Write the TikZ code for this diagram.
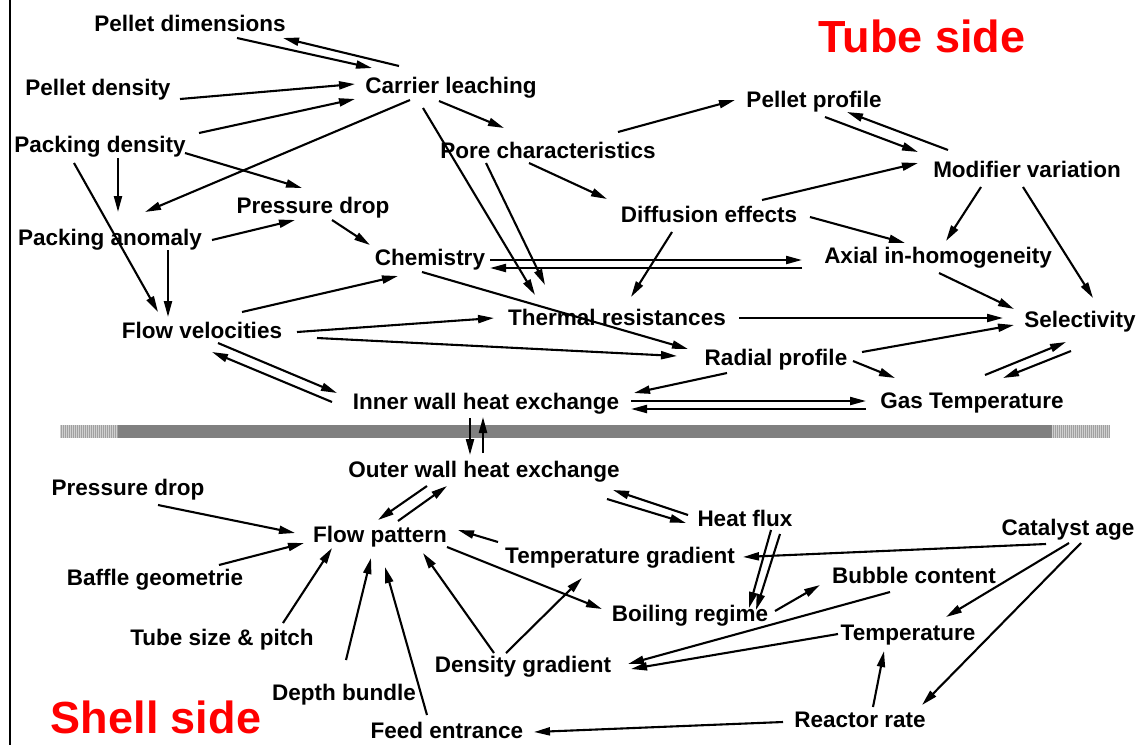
\documentclass[tikz,border=0pt]{standalone}
\usepackage{fontspec}
\setmainfont{Liberation Sans}
\usetikzlibrary{arrows.meta,calc}
\definecolor{wallgray}{HTML}{808080}
\definecolor{hatchlight}{HTML}{D0D0D0}
\definecolor{hatchdark}{HTML}{A0A0A0}
\begin{document}
\begin{tikzpicture}[x=1pt,y=-1pt,
  lbl/.style={anchor=base,inner sep=0pt,font=\fontsize{22.5}{27}\selectfont\bfseries},
  side/.style={anchor=base,inner sep=0pt,text=red,font=\fontsize{45}{54}\selectfont\bfseries},
  arr/.style={line width=2.1pt,-{Triangle[length=16pt,width=8pt]}}]
\useasboundingbox (0,0) rectangle (1139,745);
\fill[white] (0,0) rectangle (1139,745);

% left frame line
\draw[line width=2pt] (10,0) -- (10,745);

% reactor wall
\fill[hatchlight] (60,425) rectangle (118,438);
\foreach \x in {61,63,...,117} \draw[hatchdark,line width=0.8pt] (\x,425) -- (\x,438);
\fill[hatchlight] (1052,425) rectangle (1110,438);
\foreach \x in {1053,1055,...,1109} \draw[hatchdark,line width=0.8pt] (\x,425) -- (\x,438);
\fill[wallgray] (118,425) rectangle (1052,438);

% side titles
\node[side] (tubeside) at (922,52) {Tube side};
\node[side] (shellside) at (156,733) {Shell side};

% tube side factors
\node[lbl] (pdim)  at (190,31)  {Pellet dimensions};
\node[lbl] (pden)  at (98,95)   {Pellet density};
\node[lbl] (pack)  at (100,152) {Packing density};
\node[lbl] (pdt)   at (313,213) {Pressure drop};
\node[lbl] (panom) at (110,245) {Packing anomaly};
\node[lbl] (carr)  at (451,93)  {Carrier leaching};
\node[lbl] (pore)  at (548,158) {Pore characteristics};
\node[lbl] (diff)  at (709,222) {Diffusion effects};
\node[lbl] (pprof) at (814,107) {Pellet profile};
\node[lbl] (modv)  at (1027,177) {Modifier variation};
\node[lbl] (chem)  at (430,265) {Chemistry};
\node[lbl] (axial) at (938,263) {Axial in-homogeneity};
\node[lbl] (flowv) at (202,338) {Flow velocities};
\node[lbl] (therm) at (617,325) {Thermal resistances};
\node[lbl] (sel)   at (1080,327) {Selectivity};
\node[lbl] (rad)   at (776,365) {Radial profile};
\node[lbl] (iwall) at (486,409) {Inner wall heat exchange};
\node[lbl] (gast)  at (972,408) {Gas Temperature};

% shell side factors
\node[lbl] (owall) at (484,477) {Outer wall heat exchange};
\node[lbl] (spd)   at (128,495) {Pressure drop};
\node[lbl] (heat)  at (745,526) {Heat flux};
\node[lbl] (cat)   at (1068,535) {Catalyst age};
\node[lbl] (flowp) at (380,542) {Flow pattern};
\node[lbl] (tgrad) at (620,563) {Temperature gradient};
\node[lbl] (bub)   at (914,583) {Bubble content};
\node[lbl] (baff)  at (155,585) {Baffle geometrie};
\node[lbl] (boil)  at (690,621) {Boiling regime};
\node[lbl] (temp)  at (908,640) {Temperature};
\node[lbl] (tube)  at (222,645) {Tube size \& pitch};
\node[lbl] (dens)  at (523,672) {Density gradient};
\node[lbl] (depth) at (344,700) {Depth bundle};
\node[lbl] (react) at (860,727) {Reactor rate};
\node[lbl] (feed)  at (447,738) {Feed entrance};

% tube side influences
\draw[arr] ($(pdim.base)+(47,7)$) -- ($(carr.base)+(-79,-25)$);
\draw[arr] ($(carr.base)+(-52,-27)$) -- ($(pdim.base)+(93,7)$);
\draw[arr] ($(pden.base)+(82,4)$) -- ($(carr.base)+(-96,-9)$);
\draw[arr] ($(pack.base)+(99,-19)$) -- ($(carr.base)+(-96,6)$);
\draw[arr] ($(carr.base)+(-41,7)$) -- ($(panom.base)+(35,-33)$);
\draw[arr] ($(pack.base)+(85,1)$) -- ($(pdt.base)+(-11,-25)$);
\draw[arr] ($(pack.base)+(18,6)$) -- ($(panom.base)+(8,-33)$);
\draw[arr] ($(pack.base)+(-26,11)$) -- ($(flowv.base)+(-44,-26)$);
\draw[arr] ($(panom.base)+(58,5)$) -- ($(flowv.base)+(-34,-21)$);
\draw[arr] ($(panom.base)+(102,-5)$) -- ($(pdt.base)+(-18,7)$);
\draw[arr] ($(pdt.base)+(19,7)$) -- ($(chem.base)+(-60,-20)$);
\draw[arr] ($(carr.base)+(-12,8)$) -- ($(pore.base)+(-44,-30)$);
\draw[arr] ($(carr.base)+(-28,15)$) -- ($(therm.base)+(-82,-30)$);
\draw[arr] ($(pore.base)+(-62,5)$) -- ($(therm.base)+(-72,-40)$);
\draw[arr] ($(pore.base)+(-19,5)$) -- ($(diff.base)+(-102,-23)$);
\draw[arr] ($(pore.base)+(70,-26)$) -- ($(pprof.base)+(-79,-7)$);
\draw[arr] ($(diff.base)+(53,-22)$) -- ($(modv.base)+(-109,-14)$);
\draw[arr] ($(pprof.base)+(11,10)$) -- ($(modv.base)+(-109,-25)$);
\draw[arr] ($(modv.base)+(-79,-27)$) -- ($(pprof.base)+(33,5)$);
\draw[arr] ($(modv.base)+(-46,10)$) -- ($(axial.base)+(8,-22)$);
\draw[arr] ($(modv.base)+(-4,10)$) -- ($(sel.base)+(13,-29)$);
\draw[arr] ($(diff.base)+(101,-5)$) -- ($(axial.base)+(-33,-20)$);
\draw[arr] ($(diff.base)+(-37,10)$) -- ($(therm.base)+(14,-28)$);
\draw[arr] ($(chem.base)+(60,-5)$) -- ($(axial.base)+(-136,-3)$);
\draw[arr] ($(axial.base)+(-136,5)$) -- ($(chem.base)+(60,3)$);
\draw[arr] ($(axial.base)+(1,10)$) -- ($(sel.base)+(-66,-18)$);
\draw[arr] ($(therm.base)+(122,-7)$) -- ($(sel.base)+(-77,-9)$);
\draw[arr] ($(rad.base)+(86,-13)$) -- ($(sel.base)+(-66,-2)$);
\draw[arr] ($(chem.base)+(-8,7)$) -- ($(rad.base)+(-88,-16)$);
\draw[arr] ($(flowv.base)+(95,-6)$) -- ($(therm.base)+(-123,-7)$);
\draw[arr] ($(flowv.base)+(115,0)$) -- ($(rad.base)+(-99,-9)$);
\draw[arr] ($(flowv.base)+(40,-26)$) -- ($(chem.base)+(-32,11)$);
\draw[arr] ($(flowv.base)+(16,5)$) -- ($(iwall.base)+(-149,-16)$);
\draw[arr] ($(iwall.base)+(-154,-7)$) -- ($(flowv.base)+(10,14)$);
\draw[arr] ($(rad.base)+(-49,8)$) -- ($(iwall.base)+(148,-16)$);
\draw[arr] ($(rad.base)+(77,-4)$) -- ($(gast.base)+(-77,-30)$);
\draw[arr] ($(iwall.base)+(145,-8)$) -- ($(gast.base)+(-106,-7)$);
\draw[arr] ($(gast.base)+(-106,1)$) -- ($(iwall.base)+(145,0)$);
\draw[arr] ($(gast.base)+(13,-33)$) -- ($(sel.base)+(-14,15)$);
\draw[arr] ($(sel.base)+(-9,24)$) -- ($(gast.base)+(31,-30)$);

% exchange through the wall
\draw[arr] ($(iwall.base)+(-16,9)$) -- ($(owall.base)+(-14,-22)$);
\draw[arr] ($(owall.base)+(-1,-24)$) -- ($(iwall.base)+(-3,8)$);

% shell side influences
\draw[arr] ($(owall.base)+(-57,9)$) -- ($(flowp.base)+(-2,-22)$);
\draw[arr] ($(flowp.base)+(18,-21)$) -- ($(owall.base)+(-37,9)$);
\draw[arr] ($(spd.base)+(30,10)$) -- ($(flowp.base)+(-85,-9)$);
\draw[arr] ($(baff.base)+(64,-20)$) -- ($(flowp.base)+(-76,1)$);
\draw[arr] ($(tube.base)+(61,-22)$) -- ($(flowp.base)+(-48,6)$);
\draw[arr] ($(depth.base)+(2,-40)$) -- ($(flowp.base)+(-9,16)$);
\draw[arr] ($(feed.base)+(-20,-23)$) -- ($(flowp.base)+(5,25)$);
\draw[arr] ($(dens.base)+(-29,-19)$) -- ($(flowp.base)+(43,11)$);
\draw[arr] ($(dens.base)+(-17,-19)$) -- ($(tgrad.base)+(-38,15)$);
\draw[arr] ($(flowp.base)+(67,5)$) -- ($(boil.base)+(-88,-12)$);
\draw[arr] ($(tgrad.base)+(-122,-21)$) -- ($(flowp.base)+(78,-12)$);
\draw[arr] ($(owall.base)+(123,22)$) -- ($(heat.base)+(-59,-3)$);
\draw[arr] ($(heat.base)+(-57,-11)$) -- ($(owall.base)+(129,13)$);
\draw[arr] ($(heat.base)+(26,4)$) -- ($(boil.base)+(59,-13)$);
\draw[arr] ($(heat.base)+(35,8)$) -- ($(boil.base)+(66,-11)$);
\draw[arr] ($(cat.base)+(-22,9)$) -- ($(tgrad.base)+(123,-6)$);
\draw[arr] ($(boil.base)+(85,-10)$) -- ($(bub.base)+(-94,2)$);
\draw[arr] ($(bub.base)+(-24,9)$) -- ($(dens.base)+(105,-8)$);
\draw[arr] ($(temp.base)+(-70,-6)$) -- ($(dens.base)+(108,-3)$);
\draw[arr] ($(cat.base)+(1,8)$) -- ($(temp.base)+(38,-23)$);
\draw[arr] ($(cat.base)+(13,8)$) -- ($(react.base)+(62,-22)$);
\draw[arr] ($(react.base)+(13,-20)$) -- ($(temp.base)+(-24,11)$);
\draw[arr] ($(react.base)+(-77,-5)$) -- ($(feed.base)+(87,-6)$);
\end{tikzpicture}
\end{document}
